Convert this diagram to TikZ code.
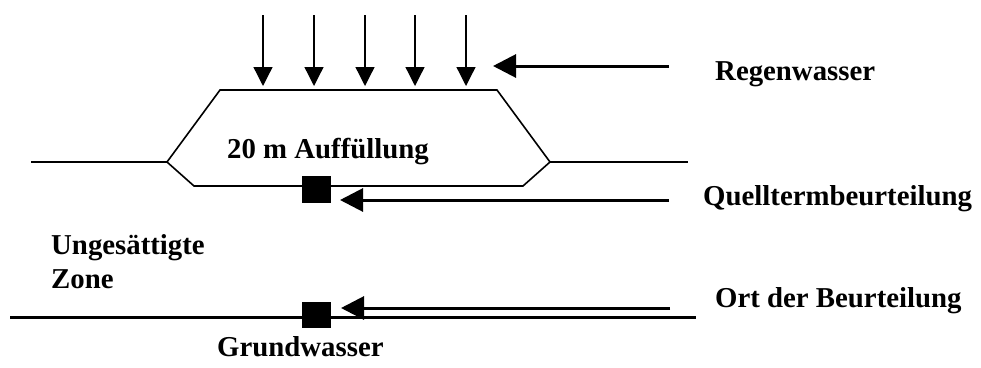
\documentclass[tikz,border=0pt]{standalone}
\usepackage{fontspec}
\setmainfont{Liberation Serif}
\usetikzlibrary{arrows.meta}
\begin{document}
\begin{tikzpicture}[x=1pt,y=-1pt,
  lbl/.style={anchor=base west,inner sep=0pt,font=\bfseries\fontsize{28.8}{34}\selectfont},
  thin line/.style={line width=1.6pt},
  thick line/.style={line width=3pt},
  rain/.style={line width=1.3pt,-{Triangle[length=19pt,width=19pt]}},
  harrow/.style={line width=3pt,-{Triangle[length=23pt,width=23pt]}},
  blk/.style={fill=black,draw=none,inner sep=0pt,minimum width=29pt,minimum height=27pt}]
\useasboundingbox (0,0) rectangle (981,367);
% rain arrows
\foreach \i/\x in {1/263,2/314,3/365,4/415,5/466}{
  \coordinate (rt\i) at (\x,15);
  \coordinate (rb\i) at (\x,86);
  \draw[rain] (rt\i) -- (rb\i);
}
% fill body
\coordinate (tl) at (220,90);
\coordinate (tr) at (497,90);
\coordinate (vr) at (550,162);
\coordinate (br) at (523,186);
\coordinate (bl) at (194,186);
\coordinate (vl) at (167,162);
\draw[thin line,line join=miter] (tl) -- (tr) -- (vr) -- (br) -- (bl) -- (vl) -- cycle;
% ground surface
\coordinate (gl) at (31,162);
\coordinate (gr) at (688,162);
\draw[thin line] (gl) -- (vl);
\draw[thin line] (vr) -- (gr);
% groundwater line
\coordinate (wl) at (10,317);
\coordinate (wr) at (696,317);
\draw[thick line] (wl) -- (wr);
% squares
\node[blk] (sq1) at (316.5,189.5) {};
\node[blk,minimum height=26pt] (sq2) at (316.5,315) {};
% horizontal arrows
\coordinate (ra) at (669,66);
\coordinate (rtip) at (493,66);
\draw[harrow] (ra) -- (rtip);
\coordinate (qa) at (669,200);
\coordinate (qtip) at (340,200);
\draw[harrow] (qa) -- (qtip);
\coordinate (oa) at (670,308);
\coordinate (otip) at (341,308);
\draw[harrow] (oa) -- (otip);
% labels
\node[lbl] (regen) at (715,80) {Regenwasser};
\node[lbl] (fill) at (227,158) {20 m Auffüllung};
\node[lbl] (quell) at (703,205) {Quelltermbeurteilung};
\node[lbl] (zone1) at (51,254) {Ungesättigte};
\node[lbl] (zone2) at (51,288) {Zone};
\node[lbl] (ort) at (715,307) {Ort der Beurteilung};
\node[lbl] (gw) at (217,356) {Grundwasser};
\end{tikzpicture}
\end{document}
